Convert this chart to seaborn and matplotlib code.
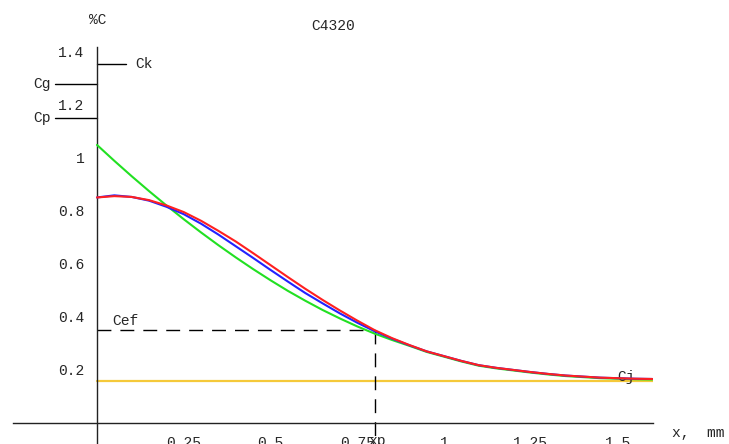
import numpy as np
import pandas as pd
import seaborn as sns
import matplotlib
matplotlib.use("Agg")
import matplotlib.pyplot as plt
from matplotlib.ticker import MultipleLocator

# ---- data ----
x_vals = [0.0, 0.05, 0.1, 0.15, 0.2, 0.25, 0.3, 0.35, 0.4, 0.45, 0.5, 0.55, 0.6,
          0.65, 0.7, 0.75, 0.8, 0.85, 0.9, 0.95, 1.0, 1.05, 1.1, 1.15, 1.2, 1.25,
          1.3, 1.35, 1.4, 1.45, 1.5, 1.55, 1.6]
red_vals = [0.850, 0.855, 0.852, 0.840, 0.820, 0.795, 0.762, 0.724, 0.684, 0.640,
            0.595, 0.550, 0.506, 0.464, 0.424, 0.386, 0.350, 0.320, 0.294, 0.270,
            0.252, 0.234, 0.218, 0.208, 0.200, 0.192, 0.185, 0.179, 0.175, 0.171,
            0.169, 0.167, 0.166]
blue_vals = [0.850, 0.858, 0.852, 0.838, 0.815, 0.787, 0.751, 0.710, 0.666, 0.622,
             0.577, 0.533, 0.490, 0.451, 0.413, 0.378, 0.346, 0.318, 0.293, 0.270,
             0.252, 0.234, 0.218, 0.208, 0.200, 0.192, 0.185, 0.179, 0.175, 0.171,
             0.169, 0.167, 0.166]
green_vals = [1.048, 0.988, 0.930, 0.874, 0.820, 0.768, 0.718, 0.670, 0.624, 0.580,
              0.538, 0.498, 0.461, 0.426, 0.394, 0.364, 0.337, 0.313, 0.291, 0.268,
              0.250, 0.232, 0.216, 0.206, 0.198, 0.190, 0.183, 0.177, 0.173, 0.169,
              0.167, 0.165, 0.164]
cj_x = [0.0, 1.602]
cj_level = 0.159
ck_level, cg_level, cp_level = 1.353, 1.277, 1.148
cef_level, x_ef = 0.351, 0.801

y_ticks = [0.2, 0.4, 0.6, 0.8, 1.0, 1.2, 1.4]
y_tick_labels = ["0.2", "0.4", "0.6", "0.8", "1", "1.2", "1.4"]
x_ticks = [0.25, 0.5, 0.75, 1.0, 1.25, 1.5]
x_tick_labels = ["0.25", "0.5", "0.75", "1", "1.25", "1.5"]

df = pd.DataFrame({"x": x_vals, "red": red_vals, "blue": blue_vals, "green": green_vals})

sns.set_style("white")
mono = ["Liberation Mono", "DejaVu Sans Mono"]
plt.rcParams["font.family"] = mono

W, H = 729, 444
fig = plt.figure(figsize=(W / 100, H / 100), dpi=100)
# axes box in pixels: left 13, right 653, top 47, bottom 444
ax = fig.add_axes([13 / W, 0 / H, (653 - 13) / W, (444 - 47) / H])
ax.set_xlim(-0.242, 1.602)
ax.set_ylim(-0.079, 1.417)

# curves
ax.plot(cj_x, [cj_level, cj_level], color="#f5c93a", lw=1.6, zorder=2)
sns.lineplot(data=df, x="x", y="green", color="#22e022", lw=1.5, ax=ax, zorder=3)
sns.lineplot(data=df, x="x", y="blue", color="#2222ff", lw=1.5, ax=ax, zorder=4)
sns.lineplot(data=df, x="x", y="red", color="#ff2020", lw=1.5, ax=ax, zorder=5)

# marker lines
ax.plot([0, 0.084], [ck_level, ck_level], color="black", lw=1)
ax.plot([-0.121, 0], [cg_level, cg_level], color="black", lw=1)
ax.plot([-0.121, 0], [cp_level, cp_level], color="black", lw=1)
ax.plot([0, x_ef], [cef_level, cef_level], color="black", lw=1, dashes=(10, 6.5))
ax.plot([x_ef, x_ef], [cef_level, -0.079], color="black", lw=1, dashes=(10, 6.5))

fs = 10.5
ax.text(0.11, ck_level, "Ck", fontsize=fs, va="center", ha="left")
ax.text(-0.185, cg_level, "Cg", fontsize=fs, va="center", ha="left")
ax.text(-0.185, cp_level, "Cp", fontsize=fs, va="center", ha="left")
ax.text(0.045, cef_level + 0.007, "Cef", fontsize=fs, va="bottom", ha="left")
ax.text(1.5, 0.172, "Cj", fontsize=fs, va="center", ha="left")

# spines like Mathematica axes
for s in ["top", "right"]:
    ax.spines[s].set_visible(False)
ax.spines["left"].set_position(("data", 0))
ax.spines["bottom"].set_position(("data", 0))
for s in ["left", "bottom"]:
    ax.spines[s].set_color("#222222")
    ax.spines[s].set_linewidth(1.0)

ax.set_xticks(x_ticks)
ax.set_xticklabels(x_tick_labels)
ax.set_yticks(y_ticks)
ax.set_yticklabels(y_tick_labels)
ax.xaxis.set_minor_locator(MultipleLocator(0.05))
ax.yaxis.set_minor_locator(MultipleLocator(0.05))
ax.tick_params(axis="both", which="major", direction="in", length=3.5, width=1,
               color="#222222", labelsize=fs)
ax.tick_params(axis="both", which="minor", direction="in", length=2, width=1,
               color="#222222")
ax.tick_params(axis="y", which="major", pad=9)
ax.tick_params(axis="x", which="major", pad=9)
ax.set_xlabel("")
ax.set_ylabel("")

fig.text(98 / W, 1 - 20 / H, "%C", fontsize=fs, ha="center", va="center")
fig.text(333 / W, 1 - 26 / H, "C4320", fontsize=fs, ha="center", va="center")
fig.text(672 / W, 1 - 433 / H, "x,  mm", fontsize=fs, ha="left", va="center")
fig.text(368 / W, 1 - 441 / H, "xp", fontsize=fs, ha="left", va="center")

fig.savefig("out.png", dpi=100)
